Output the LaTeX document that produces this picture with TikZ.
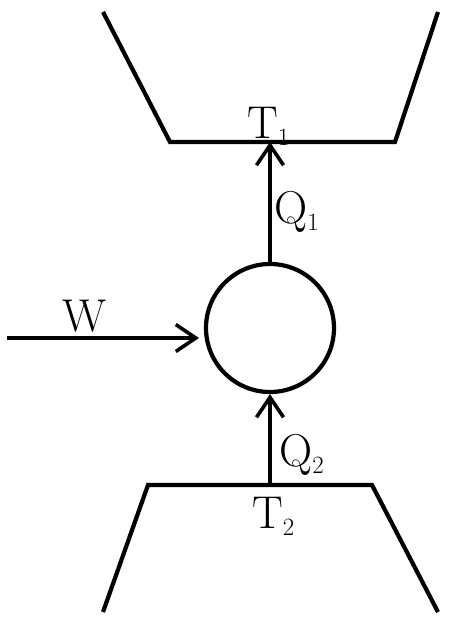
\documentclass[tikz,border=0pt]{standalone}
\usetikzlibrary{arrows.meta}
\begin{document}
\begin{tikzpicture}[x=1pt,y=-1pt,
  thick line/.style={line width=4.2pt, line join=miter},
  flow/.style={line width=4.2pt, -{Straight Barb[length=20pt,width=27pt,line width=3.6pt]}},
  lbl/.style={inner sep=0pt, anchor=base west, font=\fontsize{46}{50}\selectfont}]
\useasboundingbox (0,0) rectangle (467,623);
% reservoirs
\coordinate (a1) at (103,12);
\coordinate (a2) at (170,142);
\coordinate (a3) at (395,142);
\coordinate (a4) at (438,12);
\coordinate (t1) at (270,142);
\draw[thick line] (a1) -- (a2) -- (a3) -- (a4);
\coordinate (b1) at (103,612);
\coordinate (b2) at (148,485);
\coordinate (b3) at (372,485);
\coordinate (b4) at (438,612);
\coordinate (t2) at (270,485);
\draw[thick line] (b1) -- (b2) -- (b3) -- (b4);
% engine
\node[draw, circle, line width=4.2pt, minimum size=128pt, inner sep=0pt] (c) at (270,328) {};
% arrows
\draw[flow] (c.north) -- (t1);
\draw[flow] (t2) -- (c.south);
\coordinate (w0) at (7,338);
\coordinate (w1) at (199,338);
\draw[flow] (w0) -- (w1);
% labels
\node[lbl] (lt1) at (247,138) {T$_1$};
\node[lbl] (lt2) at (252,528) {T$_2$};
\node[lbl] (lq1) at (274,223) {Q$_1$};
\node[lbl] (lq2) at (279,466) {Q$_2$};
\node[lbl] (lw) at (62,331) {W};
\end{tikzpicture}
\end{document}
